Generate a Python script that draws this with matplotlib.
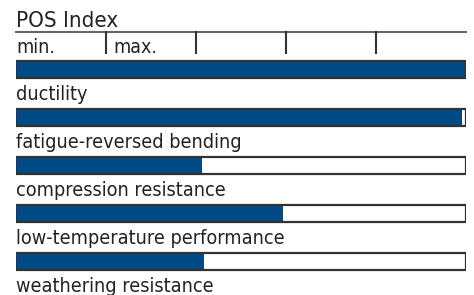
import matplotlib
matplotlib.use("Agg")
import matplotlib.pyplot as plt

# ------------------------------ data ------------------------------ #
title = "POS Index"
scale_labels = ["min.", "max."]
scale_ticks = [0.2, 0.4, 0.6, 0.8]
# labels sit below each bar (the one for the first bar is cut off above)
properties = ["ductility", "fatigue-reversed bending", "compression resistance",
              "low-temperature performance", "weathering resistance"]
values = [1.0, 0.99, 0.413, 0.593, 0.418]

# ------------------------------ style ------------------------------ #
plt.rcParams["font.family"] = ["DejaVu Sans"]
plt.rcParams["font.stretch"] = "condensed"
bar_color = "#004a87"
edge_color = "#333333"
text_color = "#222222"
row_px = 48.0          # distance between bars in pixels
bar_h = 17.0 / row_px  # bar thickness in row units

fig = plt.figure(figsize=(4.74, 2.95), dpi=100)
ax = fig.add_axes([16 / 474, 0, 450 / 474, 1])
ax.set_xlim(0, 1)
ax.set_ylim((295 - 69.3) / row_px, -69.3 / row_px)
ax.axis("off")

rows = list(range(len(values)))
ax.barh(rows, values, height=bar_h, color=bar_color, edgecolor="none")
ax.barh(rows, [1] * len(rows), height=bar_h, facecolor="none",
        edgecolor=edge_color, linewidth=1.6)

# header with title, scale line and ticks
ax.text(0, -0.888, title, fontsize=16, color=text_color, va="baseline")
ax.plot([0, 1], [-0.783, -0.783], color="#666666", lw=1.5, clip_on=False)
for t in scale_ticks:
    ax.plot([t, t], [-0.783, -0.34], color="#333333", lw=1.5)
ax.text(0, -0.34, scale_labels[0], fontsize=14, color=text_color,
        va="baseline")
ax.text(scale_ticks[0] + 0.016, -0.34, scale_labels[1], fontsize=14,
        color=text_color, va="baseline")

for r, name in zip(rows, properties):
    ax.text(0, r + 1 - 0.35, name, fontsize=14.2, color=text_color,
            va="baseline", clip_on=False)

fig.savefig("out.png", dpi=100)
